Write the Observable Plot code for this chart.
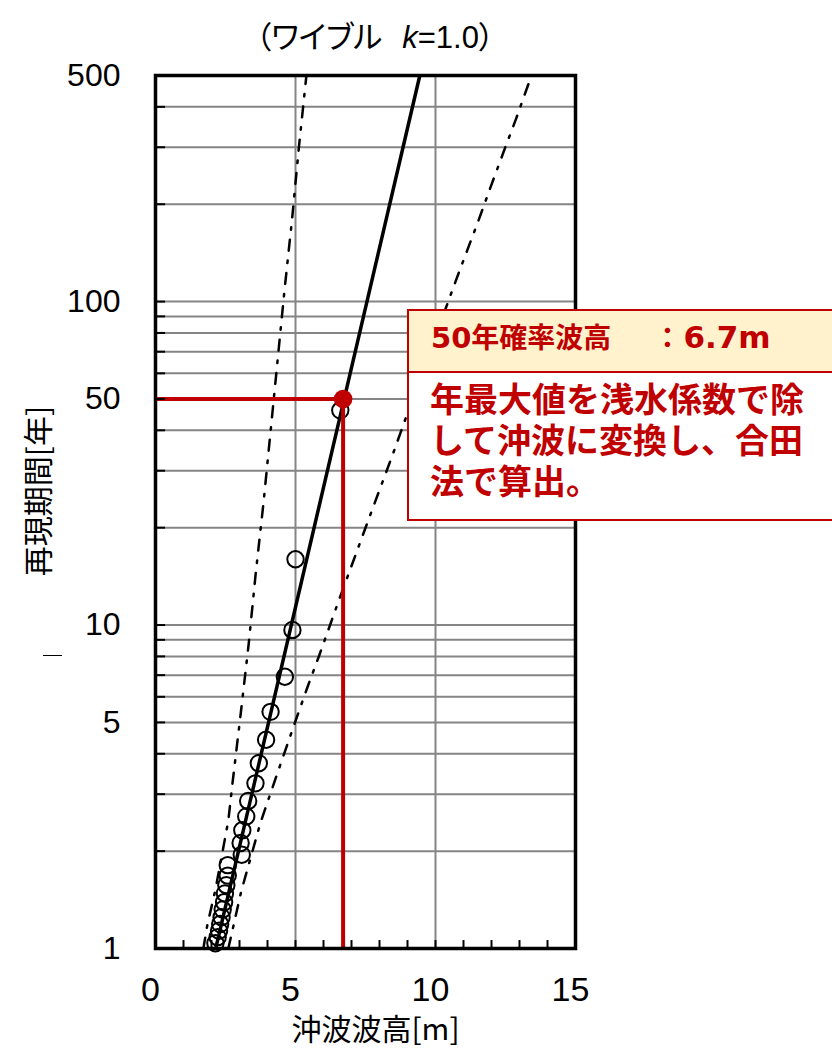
<!DOCTYPE html>
<html><head><meta charset="utf-8">
<script src="https://cdn.jsdelivr.net/npm/d3@7"></script>
<script src="https://cdn.jsdelivr.net/npm/@observablehq/plot@0.6"></script>
<style>
html,body{margin:0;padding:0;overflow:hidden;background:#fff;}
#wrap{position:relative;width:832px;height:1054px;overflow:hidden;}
#title{position:absolute;left:0;top:12px;width:750px;text-align:center;font-family:"Noto Sans CJK JP",sans-serif;font-feature-settings:"palt";font-size:31px;line-height:46px;color:#000;white-space:pre;}
#title .lat{font-family:"Liberation Sans",sans-serif;margin-left:20px;}
#ytitle{position:absolute;left:36px;top:491px;transform:translate(-50%,-50%) rotate(-90deg);font-family:"Noto Sans CJK JP",sans-serif;font-size:30px;line-height:34px;white-space:pre;color:#000;}
#stray{position:absolute;left:43px;top:655px;width:19px;height:0;border-top:1.5px solid #000;}
#note{position:absolute;left:407px;top:309px;width:440px;height:212px;box-sizing:border-box;border:2px solid #C00000;background:#fff;font-family:"Noto Sans CJK JP",sans-serif;font-weight:700;color:#C00000;}
#note .head{height:60px;background:#FFF2CC;border-bottom:2px solid #C00000;font-size:28px;line-height:50px;padding-left:22px;white-space:pre;}
#note .lat{font-family:"DejaVu Sans",sans-serif;font-size:29px;}
#note .lat2{font-family:"DejaVu Sans",sans-serif;font-size:31px;margin-left:2px;}
#note .colon{margin-left:42px;}
#note .body{padding:4px 0 0 21px;font-size:34px;line-height:41px;white-space:pre;}
</style></head><body>
<div id="wrap">
<div id="chart"></div>
<div id="title">（ワイブル<span class="lat"><i>k</i>=1.0</span>）</div>
<div id="ytitle">再現期間[年]</div>
<div id="stray"></div>
<div id="note"><div class="head"><span class="lat">50</span>年確率波高<span class="colon">：</span><span class="lat2">6.7m</span></div><div class="body">年最大値を浅水係数で除
して沖波に変換し、合田
法で算出。</div></div>
</div>
<script>
const xDomain = [0, 15];
const yDomain = [1, 500];
const xTickLabels = [0, 5, 10, 15];
const yTickLabels = [1, 5, 10, 50, 100, 500];
const xGrid = [5, 10];
const yGrid = [2, 3, 4, 5, 6, 7, 8, 9, 10, 20, 30, 40, 50, 60, 70, 80, 90, 100, 200, 300, 400];
const xMinorTicks = [1, 2, 3, 4, 5, 6, 7, 8, 9, 10, 11, 12, 13, 14];
const xTitle = "沖波波高[m]";

// observed annual maxima (offshore wave height) and plotting return periods
const returnPeriod = [46.1, 15.97, 9.66, 6.92, 5.39, 4.42, 3.74, 3.24, 2.86, 2.56, 2.32, 2.12, 1.95, 1.81, 1.68, 1.57, 1.48, 1.39, 1.32, 1.25, 1.19, 1.135, 1.084, 1.038];
const waveHeight   = [6.6, 5.0, 4.89, 4.62, 4.11, 3.95, 3.69, 3.57, 3.31, 3.24, 3.10, 3.04, 3.08, 2.58, 2.58, 2.53, 2.48, 2.45, 2.40, 2.36, 2.31, 2.27, 2.22, 2.14];

// fitted Weibull (k=1.0) line
const fitT = [1, 500];
const fitX = [2.15, 9.44];

// confidence band (dash-dot)
const lowerT = [1, 1.18, 1.52, 2.48, 3.19, 5.29, 8.77, 14.47, 24.0, 39.7, 109, 180.7, 299.5, 500];
const lowerX = [1.71, 1.85, 2.14, 2.60, 2.74, 3.04, 3.33, 3.58, 3.86, 4.11, 4.61, 4.88, 5.12, 5.39];
const upperT = [1, 1.17, 1.50, 2.45, 3.13, 3.97, 5.05, 6.40, 8.11, 12.07, 16.6, 21.1, 33.8, 43.2, 111.4, 141.5, 179.5, 227.5, 290, 366, 468, 500];
const upperX = [2.60, 2.78, 3.06, 3.75, 4.17, 4.58, 5.00, 5.42, 5.86, 6.57, 7.16, 7.60, 8.48, 8.92, 10.65, 11.10, 11.55, 11.98, 12.43, 12.87, 13.31, 13.43];

// 50-year design wave
const designT = [50];
const designX = [6.7];

const points = returnPeriod.map((T, i) => ({T, x: waveHeight[i]}));
const fit = fitT.map((T, i) => ({T, x: fitX[i]}));
const lower = lowerT.map((T, i) => ({T, x: lowerX[i]}));
const upper = upperT.map((T, i) => ({T, x: upperX[i]}));
const design = designT.map((T, i) => ({T, x: designX[i]}));

const red = "#C00000";
const grid = "#858585";
const dashDot = "11,10,2.5,10";

const chart = Plot.plot({
  width: 832,
  height: 1054,
  marginLeft: 155,
  marginRight: 257,
  marginTop: 75,
  marginBottom: 106,
  style: {fontFamily: "'Liberation Sans', 'Noto Sans CJK JP', sans-serif", background: "white", color: "black"},
  x: {domain: xDomain},
  y: {type: "log", domain: yDomain, axis: null},
  marks: [
    Plot.ruleY(yGrid, {stroke: grid, strokeWidth: 2}),
    Plot.ruleX(xGrid, {stroke: grid, strokeWidth: 2}),
    Plot.line(lower, {x: "x", y: "T", stroke: "black", strokeWidth: 2.5, strokeDasharray: dashDot, clip: true}),
    Plot.line(upper, {x: "x", y: "T", stroke: "black", strokeWidth: 2.5, strokeDasharray: dashDot, clip: true}),
    Plot.dot(points, {x: "x", y: "T", r: 8.2, stroke: "black", strokeWidth: 2, fill: "none"}),
    Plot.line(fit, {x: "x", y: "T", stroke: "black", strokeWidth: 3.5, clip: true}),
    Plot.ruleY(design, {y: "T", x1: xDomain[0], x2: "x", stroke: red, strokeWidth: 4}),
    Plot.ruleX(design, {x: "x", y1: yDomain[0], y2: "T", stroke: red, strokeWidth: 4}),
    Plot.dot(design, {x: "x", y: "T", r: 9.3, fill: red}),
    Plot.ruleY(yGrid, {x1: xDomain[0], x2: 0.36, stroke: "black", strokeWidth: 2}),
    Plot.ruleX(xMinorTicks, {y1: yDomain[0], y2: 1.058, stroke: "black", strokeWidth: 2}),
    Plot.frame({stroke: "black", strokeWidth: 3.5}),
    Plot.axisX({ticks: xTickLabels, tickSize: 0, tickPadding: 28, fontSize: 34, dx: -5, label: null, tickFormat: d => String(d)}),
    Plot.text(yTickLabels, {x: xDomain[0], y: d => d, text: d => String(d), textAnchor: "end", dx: -35, fontSize: 32}),
    Plot.text([xTitle], {text: d => d, frameAnchor: "bottom", dy: 91, dx: 10, fontSize: 30, fontFamily: "'Noto Sans CJK JP', sans-serif"})
  ]
});
document.getElementById("chart").appendChild(chart);
</script>
</body></html>
